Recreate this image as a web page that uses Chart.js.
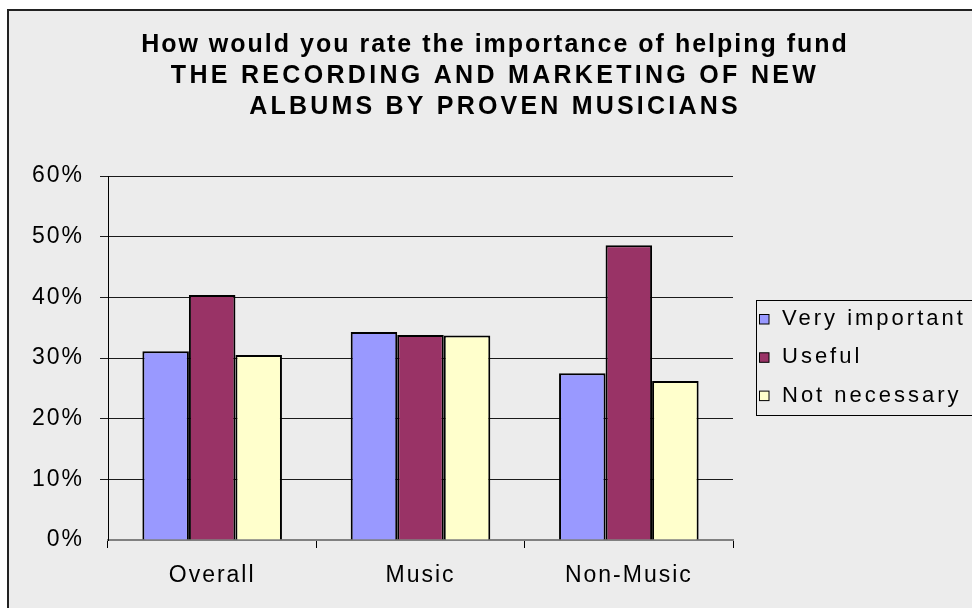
<!DOCTYPE html>
<html lang="en">

<head>
    <meta charset="UTF-8">
    <title>Recording and marketing of new albums</title>
    <script src="https://cdn.jsdelivr.net/npm/chart.js"></script>
    <style>
        * {
            margin: 0;
            padding: 0;
            box-sizing: border-box;
        }

        body {
            background-color: #ffffff;
            width: 972px;
            height: 608px;
            overflow: hidden;
        }

        #wrap {
            width: 972px;
            height: 608px;
        }
    </style>
</head>

<body>
    <div id="wrap"><canvas id="albumChart"></canvas></div>

    <script>
        const titleLines = [
            'How would you rate the importance of helping fund',
            'THE RECORDING AND MARKETING OF NEW',
            'ALBUMS BY PROVEN MUSICIANS'
        ];
        const categories = ['Overall', 'Music', 'Non-Music'];
        const seriesNames = ['Very important', 'Useful', 'Not necessary'];
        const veryImportant = [31.1, 34.3, 27.5];
        const useful = [40.4, 33.8, 48.6];
        const notNecessary = [30.5, 33.7, 26.2];
        const yTicks = [0, 10, 20, 30, 40, 50, 60];

        const FONT = "'Liberation Sans', Arial, sans-serif";
        // the capitals in the heading are spaced wider than the first line
        const titleSpacing = ['2px', '3.3px', '3.2px'];

        // grey panel, outer border, title and the boxed legend
        const panel = {
            id: 'panel',
            beforeDraw(chart) {
                const ctx = chart.ctx;
                ctx.save();
                ctx.fillStyle = '#ececec';
                ctx.fillRect(9, 11, chart.width, chart.height);
                ctx.strokeStyle = '#222222';
                ctx.lineWidth = 2;
                ctx.strokeRect(8, 10, chart.width + 20, chart.height + 20);
                ctx.restore();
                // axis labels are a little spread out
                ctx.letterSpacing = '2px';
            },
            afterDraw(chart) {
                const ctx = chart.ctx;
                ctx.letterSpacing = '0px';
                ctx.save();
                ctx.fillStyle = '#000000';
                ctx.textAlign = 'center';
                ctx.textBaseline = 'alphabetic';
                ctx.font = 'bold 25px ' + FONT;
                titleLines.forEach((line, i) => {
                    ctx.letterSpacing = titleSpacing[i];
                    ctx.fillText(line, 495, 52 + i * 30.8);
                });

                // legend
                const lx = 756.5, ly = 300.5;
                ctx.letterSpacing = '3px';
                ctx.lineWidth = 1;
                ctx.strokeStyle = '#000000';
                ctx.strokeRect(lx, ly, 400, 115);
                ctx.font = '22px ' + FONT;
                ctx.textAlign = 'left';
                chart.data.datasets.forEach((ds, i) => {
                    const base = 325 + i * 38.3;
                    ctx.fillStyle = ds.backgroundColor;
                    ctx.fillRect(759.5, base - 10.5, 9.5, 9.5);
                    ctx.strokeRect(759.5, base - 10.5, 9.5, 9.5);
                    ctx.fillStyle = '#000000';
                    ctx.fillText(ds.label, 782, base);
                });
                ctx.restore();
            }
        };

        const ctx = document.getElementById('albumChart').getContext('2d');

        new Chart(ctx, {
            type: 'bar',
            data: {
                labels: categories,
                datasets: [
                    {
                        label: seriesNames[0],
                        data: veryImportant,
                        backgroundColor: '#9999ff'
                    },
                    {
                        label: seriesNames[1],
                        data: useful,
                        backgroundColor: '#993366'
                    },
                    {
                        label: seriesNames[2],
                        data: notNecessary,
                        backgroundColor: '#ffffcc'
                    }
                ]
            },
            options: {
                responsive: true,
                maintainAspectRatio: false,
                animation: false,
                layout: {
                    padding: { top: 176, right: 239, bottom: 0, left: 0 }
                },
                datasets: {
                    bar: {
                        borderColor: '#000000',
                        borderWidth: 2,
                        categoryPercentage: 0.67,
                        barPercentage: 1
                    }
                },
                plugins: {
                    legend: { display: false },
                    title: { display: false },
                    tooltip: { enabled: false }
                },
                scales: {
                    x: {
                        afterFit(scale) { scale.height = 68; },
                        grid: {
                            offset: true,
                            drawOnChartArea: false,
                            drawTicks: true,
                            tickLength: 8,
                            color: '#000000'
                        },
                        border: {
                            color: '#808080',
                            width: 2
                        },
                        ticks: {
                            color: '#000000',
                            padding: 14,
                            font: { family: FONT, size: 23 }
                        }
                    },
                    y: {
                        min: 0,
                        max: 60,
                        afterFit(scale) { scale.width = 108; },
                        afterBuildTicks(scale) {
                            scale.ticks = yTicks.map(v => ({ value: v }));
                        },
                        grid: {
                            color: c => c.tick && c.tick.value === 0 ? 'rgba(0,0,0,0)' : '#1a1a1a',
                            lineWidth: 1,
                            drawTicks: true,
                            tickLength: 8
                        },
                        border: {
                            color: '#000000',
                            width: 1
                        },
                        ticks: {
                            color: '#000000',
                            padding: 16,
                            font: { family: FONT, size: 23 },
                            callback: v => v + '%'
                        }
                    }
                }
            },
            plugins: [panel]
        });
    </script>
</body>

</html>
